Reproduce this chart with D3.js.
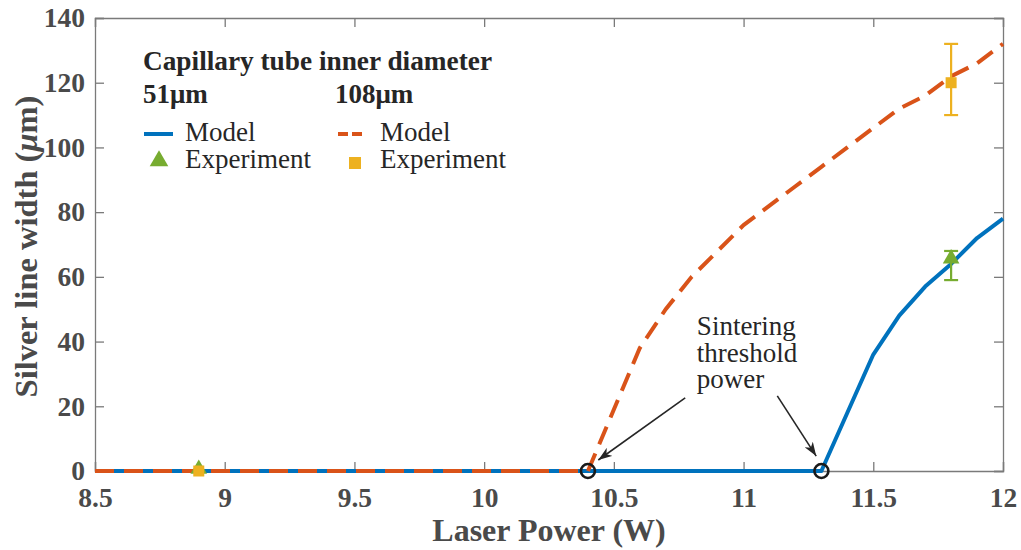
<!DOCTYPE html>
<html>
<head>
<meta charset="utf-8">
<script src="https://cdn.jsdelivr.net/npm/d3@7"></script>
<style>
  html, body { margin: 0; padding: 0; background: #fff; }
  svg { display: block; }
  svg text { font-family: "Liberation Serif", "Times New Roman", serif; }
</style>
</head>
<body>
<svg id="chart" width="1021" height="550"></svg>
<script>
// ---- data ----
const modelPower51 = [8.5, 11.3, 11.4, 11.5, 11.6, 11.7, 11.8, 11.9, 12.0];
const modelWidth51 = [0, 0, 18, 36, 48, 57, 64, 72, 78];
const modelPower108 = [8.5, 10.4, 10.5, 10.6, 10.7, 10.8, 10.9, 11.0, 11.1, 11.2, 11.3, 11.4, 11.5, 11.6, 11.7, 11.8, 11.9, 12.0];
const modelWidth108 = [0, 0, 19, 38, 50, 60, 68, 76, 82, 88, 94, 100, 106, 112, 116, 122, 126, 132];
const expPower51 = [8.9, 11.8];
const expWidth51 = [0, 65];
const expLow51 = [null, 59];
const expHigh51 = [null, 68];
const expPower108 = [8.9, 11.8];
const expWidth108 = [0, 120];
const expLow108 = [null, 110];
const expHigh108 = [null, 132];
const thresholdPower = [10.4, 11.3];
const xTicks = [8.5, 9, 9.5, 10, 10.5, 11, 11.5, 12];
const yTicks = [0, 20, 40, 60, 80, 100, 120, 140];
const annotationLines = ["Sintering", "threshold", "power"];
const arrows = [
  { from: [10.775, 22.6], to: [10.44, 3.4] },
  { from: [11.13, 23.2], to: [11.28, 4.6] }
];

// ---- layout ----
const svg = d3.select("#chart");
const L = 95, R = 1003, T = 18, B = 471;
const x = d3.scaleLinear().domain([8.5, 12]).range([L, R]);
const y = d3.scaleLinear().domain([0, 140]).range([B, T]);

const blue = "#0072BD", red = "#D95319", yellow = "#EDB120", green = "#77AC30";
const axisColor = "#7a7a7a", tickText = "#4a4a4a", darkText = "#262626";

// axes
const gx = svg.append("g").attr("transform", `translate(0,${B})`)
  .call(d3.axisBottom(x).tickValues(xTicks).tickFormat(d3.format("")).tickSize(-9).tickPadding(16));
const gy = svg.append("g").attr("transform", `translate(${L},0)`)
  .call(d3.axisLeft(y).tickValues(yTicks).tickSize(-9).tickPadding(10));
const gt = svg.append("g").attr("transform", `translate(0,${T})`)
  .call(d3.axisTop(x).tickValues(xTicks).tickFormat("").tickSize(-9));
const gr = svg.append("g").attr("transform", `translate(${R},0)`)
  .call(d3.axisRight(y).tickValues(yTicks).tickFormat("").tickSize(-9));
[gx, gy, gt, gr].forEach(g => {
  g.attr("font-family", null);
  g.select(".domain").attr("stroke", axisColor).attr("stroke-width", 1.3);
  g.selectAll(".tick line").attr("stroke", axisColor).attr("stroke-width", 1.3);
  g.selectAll(".tick text").attr("fill", tickText).attr("font-size", 27.5)
    .attr("font-weight", "bold");
});

// axis labels
svg.append("text").attr("x", (L + R) / 2).attr("y", 541).attr("text-anchor", "middle")
  .attr("font-size", 32).attr("font-weight", "bold").attr("fill", tickText)
  .text("Laser Power (W)");
const yl = svg.append("text").attr("transform", `translate(37,${(T + B) / 2 + 2}) rotate(-90)`)
  .attr("text-anchor", "middle").attr("font-size", 32.5).attr("font-weight", "bold").attr("fill", tickText);
yl.append("tspan").text("Silver line width (");
yl.append("tspan").attr("font-style", "italic").text("μ");
yl.append("tspan").text("m)");

// lines
const line = d3.line().x(d => x(d[0])).y(d => y(d[1]));
svg.append("path").datum(d3.zip(modelPower51, modelWidth51)).attr("d", line)
  .attr("fill", "none").attr("stroke", blue).attr("stroke-width", 4).attr("stroke-linejoin", "round");
svg.append("path").datum(d3.zip(modelPower108, modelWidth108)).attr("d", line)
  .attr("fill", "none").attr("stroke", red).attr("stroke-width", 4).attr("stroke-dasharray", "19,10");

// error bars + markers
function errorBars(px, lo, hi, color) {
  px.forEach((p, i) => {
    if (lo[i] == null) return;
    const g = svg.append("g").attr("stroke", color).attr("stroke-width", 2.2);
    g.append("line").attr("x1", x(p)).attr("x2", x(p)).attr("y1", y(lo[i])).attr("y2", y(hi[i]));
    g.append("line").attr("x1", x(p) - 7).attr("x2", x(p) + 7).attr("y1", y(lo[i])).attr("y2", y(lo[i]));
    g.append("line").attr("x1", x(p) - 7).attr("x2", x(p) + 7).attr("y1", y(hi[i])).attr("y2", y(hi[i]));
  });
}
errorBars(expPower51, expLow51, expHigh51, green);
errorBars(expPower108, expLow108, expHigh108, yellow);
const tri = d3.symbol().type(d3.symbolTriangle).size(120);
svg.selectAll(".tri").data(d3.zip(expPower51, expWidth51)).join("path")
  .attr("transform", d => `translate(${x(d[0])},${y(d[1]) - 2})`).attr("d", tri).attr("fill", green);
svg.selectAll(".sq").data(d3.zip(expPower108, expWidth108)).join("rect")
  .attr("x", d => x(d[0]) - 5.5).attr("y", d => y(d[1]) - 5.5).attr("width", 11).attr("height", 11).attr("fill", yellow);

// threshold circles
svg.selectAll(".thr").data(thresholdPower).join("circle")
  .attr("cx", d => x(d)).attr("cy", y(0)).attr("r", 7)
  .attr("fill", "none").attr("stroke", "#1a1a1a").attr("stroke-width", 2.6);

// annotation
const ann = svg.append("text").attr("font-size", 27).attr("fill", darkText);
annotationLines.forEach((t, i) => {
  ann.append("tspan").attr("x", x(10.82)).attr("y", 335 + i * 26.7).text(t);
});
svg.append("defs").append("marker").attr("id", "ah").attr("viewBox", "0 0 14 10")
  .attr("refX", 14).attr("refY", 5).attr("markerWidth", 14).attr("markerHeight", 10)
  .attr("markerUnits", "userSpaceOnUse").attr("orient", "auto")
  .append("path").attr("d", "M0,0 L14,5 L0,10 L4,5 Z").attr("fill", darkText);
arrows.forEach(a => {
  svg.append("line").attr("x1", x(a.from[0])).attr("y1", y(a.from[1]))
    .attr("x2", x(a.to[0])).attr("y2", y(a.to[1]))
    .attr("stroke", darkText).attr("stroke-width", 1.6).attr("marker-end", "url(#ah)");
});

// legend
const lg = svg.append("g").attr("fill", darkText).attr("font-size", 27);
lg.append("text").attr("x", 143).attr("y", 70).attr("font-size", 27.3).attr("font-weight", "bold").text("Capillary tube inner diameter");
lg.append("text").attr("x", 143).attr("y", 103).attr("font-weight", "bold").text("51μm");
lg.append("text").attr("x", 335).attr("y", 103).attr("font-weight", "bold").text("108μm");
lg.append("line").attr("x1", 144).attr("x2", 173).attr("y1", 134).attr("y2", 134).attr("stroke", blue).attr("stroke-width", 4);
lg.append("line").attr("x1", 338).attr("x2", 366).attr("y1", 134).attr("y2", 134).attr("stroke", red).attr("stroke-width", 4).attr("stroke-dasharray", "10,4");
lg.append("path").attr("transform", "translate(159,161)").attr("d", d3.symbol().type(d3.symbolTriangle).size(150)()).attr("fill", green);
lg.append("rect").attr("x", 349).attr("y", 157).attr("width", 12).attr("height", 12).attr("fill", yellow);
lg.append("text").attr("x", 185).attr("y", 141).text("Model");
lg.append("text").attr("x", 185).attr("y", 168).text("Experiment");
lg.append("text").attr("x", 380).attr("y", 141).text("Model");
lg.append("text").attr("x", 380).attr("y", 168).text("Experiment");
</script>
</body>
</html>
